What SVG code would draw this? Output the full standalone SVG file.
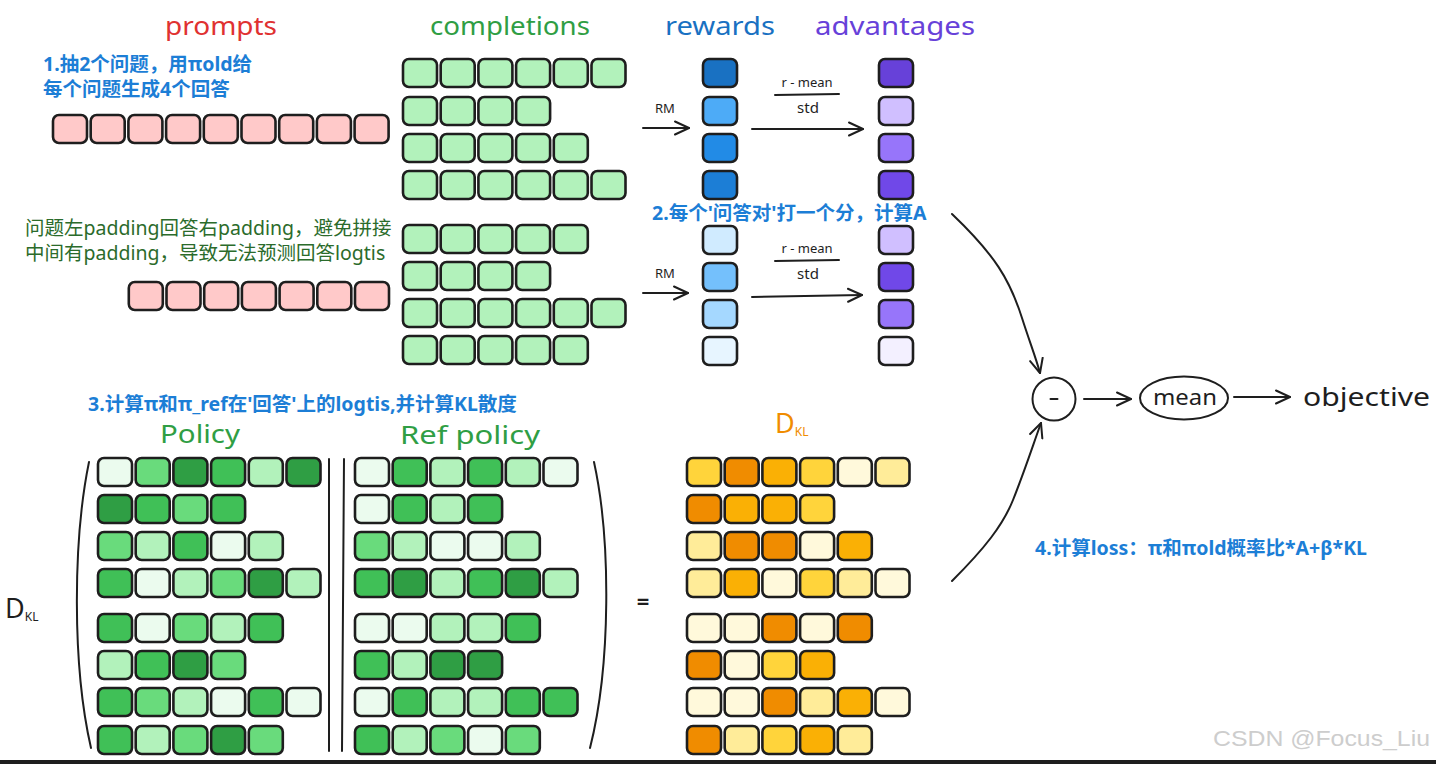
<svg xmlns="http://www.w3.org/2000/svg" width="1436" height="764" viewBox="0 0 1436 764">
<style>
.hand{font-family:"Noto Sans","DejaVu Sans",sans-serif}
.note{font-family:"Noto Sans","Noto Sans CJK SC",sans-serif;font-weight:bold;font-size:19.5px;fill:#1c7ed6}
.gnote{font-family:"Noto Sans","Noto Sans CJK SC",sans-serif;font-size:19.5px;fill:#2b6b2b}
.ink{stroke:#1e1e1e;fill:none;stroke-width:2;stroke-linecap:round}
.pk{fill:#ffc9c9}.cg{fill:#b2f2bb}
.L{fill:#ebfbee}.B{fill:#b2f2bb}.M{fill:#69db7c}.G{fill:#40c057}.D{fill:#2f9e44}
.Y{fill:#ffd43b}.O{fill:#f08c00}.A{fill:#fab005}.P{fill:#fff9db}.C{fill:#ffec99}
.b1{fill:#1971c2}.b2{fill:#4dabf7}.b3{fill:#228be6}.b4{fill:#1c7ed6}.b5{fill:#d0ebff}.b6{fill:#74c0fc}.b7{fill:#a5d8ff}.b8{fill:#e7f5ff}
.v1{fill:#6741d9}.v2{fill:#d0bfff}.v3{fill:#9775fa}.v4{fill:#7048e8}.v5{fill:#f3f0ff}
</style>
<defs>
<rect id="cell" width="34" height="28" rx="6" stroke="#1e1e1e" stroke-width="2.6"/>
<marker id="ah" viewBox="0 0 16 16" refX="15" refY="8" markerWidth="16" markerHeight="16" markerUnits="userSpaceOnUse" orient="auto">
<path d="M1,1.5 L15,8 L1,14.5" fill="none" stroke="#1e1e1e" stroke-width="2" stroke-linecap="round" stroke-linejoin="round"/>
</marker>
</defs>
<rect width="1436" height="764" fill="#ffffff"/>

<!-- titles -->
<g id="title-prompts"><text class="hand" x="165" y="35" font-size="25" fill="#e03131" textLength="112" lengthAdjust="spacingAndGlyphs">prompts</text></g>
<g id="title-completions"><text class="hand" x="430" y="35" font-size="25" fill="#2f9e44" textLength="160" lengthAdjust="spacingAndGlyphs">completions</text></g>
<g id="title-rewards"><text class="hand" x="665" y="35" font-size="25" fill="#1971c2" textLength="110" lengthAdjust="spacingAndGlyphs">rewards</text></g>
<g id="title-advantages"><text class="hand" x="815" y="35" font-size="25" fill="#6741d9" textLength="160" lengthAdjust="spacingAndGlyphs">advantages</text></g>

<!-- notes -->
<g id="note-1"><text class="note" x="43" y="70.5">1.抽2个问题，用πold给</text><text class="note" x="43" y="95.5">每个问题生成4个回答</text></g>
<g id="note-padding"><text class="gnote" x="25" y="235">问题左padding回答右padding，避免拼接</text><text class="gnote" x="25" y="260">中间有padding，导致无法预测回答logtis</text></g>
<g id="note-2"><text class="note" x="652" y="220">2.每个'问答对'打一个分，计算A</text></g>
<g id="note-3"><text class="note" x="88" y="411">3.计算π和π_ref在'回答'上的logtis,并计算KL散度</text></g>
<g id="note-4"><text class="note" x="1035" y="555">4.计算loss：π和πold概率比*A+β*KL</text></g>

<!-- prompts -->
<g id="prompts-1" transform="translate(53,115)" class="pk">
<use href="#cell" x="0"/><use href="#cell" x="37.7"/><use href="#cell" x="75.4"/><use href="#cell" x="113.1"/><use href="#cell" x="150.8"/><use href="#cell" x="188.5"/><use href="#cell" x="226.2"/><use href="#cell" x="263.9"/><use href="#cell" x="301.6"/>
</g>
<g id="prompts-2" transform="translate(128.8,282)" class="pk">
<use href="#cell" x="0"/><use href="#cell" x="37.7"/><use href="#cell" x="75.4"/><use href="#cell" x="113.1"/><use href="#cell" x="150.8"/><use href="#cell" x="188.5"/><use href="#cell" x="226.2"/>
</g>

<!-- completions -->
<g id="completions-1" transform="translate(403,59)" class="cg">
<use href="#cell" x="0" y="0"/><use href="#cell" x="37.7" y="0"/><use href="#cell" x="75.4" y="0"/><use href="#cell" x="113.1" y="0"/><use href="#cell" x="150.8" y="0"/><use href="#cell" x="188.5" y="0"/>
<use href="#cell" x="0" y="38"/><use href="#cell" x="37.7" y="38"/><use href="#cell" x="75.4" y="38"/><use href="#cell" x="113.1" y="38"/>
<use href="#cell" x="0" y="75"/><use href="#cell" x="37.7" y="75"/><use href="#cell" x="75.4" y="75"/><use href="#cell" x="113.1" y="75"/><use href="#cell" x="150.8" y="75"/>
<use href="#cell" x="0" y="112"/><use href="#cell" x="37.7" y="112"/><use href="#cell" x="75.4" y="112"/><use href="#cell" x="113.1" y="112"/><use href="#cell" x="150.8" y="112"/><use href="#cell" x="188.5" y="112"/>
</g>
<g id="completions-2" transform="translate(403,225)" class="cg">
<use href="#cell" x="0" y="0"/><use href="#cell" x="37.7" y="0"/><use href="#cell" x="75.4" y="0"/><use href="#cell" x="113.1" y="0"/><use href="#cell" x="150.8" y="0"/>
<use href="#cell" x="0" y="37"/><use href="#cell" x="37.7" y="37"/><use href="#cell" x="75.4" y="37"/><use href="#cell" x="113.1" y="37"/>
<use href="#cell" x="0" y="74"/><use href="#cell" x="37.7" y="74"/><use href="#cell" x="75.4" y="74"/><use href="#cell" x="113.1" y="74"/><use href="#cell" x="150.8" y="74"/><use href="#cell" x="188.5" y="74"/>
<use href="#cell" x="0" y="111"/><use href="#cell" x="37.7" y="111"/><use href="#cell" x="75.4" y="111"/><use href="#cell" x="113.1" y="111"/><use href="#cell" x="150.8" y="111"/>
</g>

<!-- rewards / advantages -->
<g id="rewards-1" transform="translate(703,59)">
<use href="#cell" y="0" class="b1"/><use href="#cell" y="38" class="b2"/><use href="#cell" y="75" class="b3"/><use href="#cell" y="112" class="b4"/>
</g>
<g id="advantages-1" transform="translate(879,59)">
<use href="#cell" y="0" class="v1"/><use href="#cell" y="38" class="v2"/><use href="#cell" y="75" class="v3"/><use href="#cell" y="112" class="v4"/>
</g>
<g id="rewards-2" transform="translate(703,226)">
<use href="#cell" y="0" class="b5"/><use href="#cell" y="37" class="b6"/><use href="#cell" y="74" class="b7"/><use href="#cell" y="111" class="b8"/>
</g>
<g id="advantages-2" transform="translate(879,226)">
<use href="#cell" y="0" class="v2"/><use href="#cell" y="37" class="v4"/><use href="#cell" y="74" class="v3"/><use href="#cell" y="111" class="v5"/>
</g>

<!-- labels on arrows -->
<g id="label-rm-1"><text class="hand" x="655" y="113" font-size="13" fill="#1e1e1e">RM</text></g>
<g id="label-norm-1">
<text class="hand" x="807" y="87" font-size="13" fill="#1e1e1e" text-anchor="middle">r - mean</text>
<line x1="775" y1="95" x2="839" y2="94" class="ink"/>
<text class="hand" x="808" y="113" font-size="15" fill="#1e1e1e" text-anchor="middle">std</text>
</g>
<g id="label-rm-2"><text class="hand" x="655" y="278" font-size="13" fill="#1e1e1e">RM</text></g>
<g id="label-norm-2">
<text class="hand" x="807" y="253" font-size="13" fill="#1e1e1e" text-anchor="middle">r - mean</text>
<line x1="775" y1="261" x2="839" y2="260" class="ink"/>
<text class="hand" x="808" y="279" font-size="15" fill="#1e1e1e" text-anchor="middle">std</text>
</g>

<!-- section titles bottom -->
<g id="title-policy"><text class="hand" x="160" y="443" font-size="25" fill="#2f9e44" textLength="80" lengthAdjust="spacingAndGlyphs">Policy</text></g>
<g id="title-ref-policy"><text class="hand" x="400" y="444" font-size="25" fill="#2f9e44" textLength="140" lengthAdjust="spacingAndGlyphs">Ref policy</text></g>
<g id="title-dkl"><text class="hand" x="775" y="433" font-size="27" fill="#f08c00">D<tspan font-size="12" dy="3">KL</tspan></text></g>
<g id="label-dkl-left"><text class="hand" x="5" y="618" font-size="27" fill="#1e1e1e">D<tspan font-size="12" dy="3">KL</tspan></text></g>

<!-- policy matrix -->
<g id="policy" transform="translate(98,458)">
<use href="#cell" x="0" y="0" class="L"/><use href="#cell" x="37.7" y="0" class="M"/><use href="#cell" x="75.4" y="0" class="D"/><use href="#cell" x="113.1" y="0" class="G"/><use href="#cell" x="150.8" y="0" class="B"/><use href="#cell" x="188.5" y="0" class="D"/>
<use href="#cell" x="0" y="37" class="D"/><use href="#cell" x="37.7" y="37" class="G"/><use href="#cell" x="75.4" y="37" class="M"/><use href="#cell" x="113.1" y="37" class="G"/>
<use href="#cell" x="0" y="74" class="M"/><use href="#cell" x="37.7" y="74" class="B"/><use href="#cell" x="75.4" y="74" class="G"/><use href="#cell" x="113.1" y="74" class="L"/><use href="#cell" x="150.8" y="74" class="B"/>
<use href="#cell" x="0" y="111" class="G"/><use href="#cell" x="37.7" y="111" class="L"/><use href="#cell" x="75.4" y="111" class="B"/><use href="#cell" x="113.1" y="111" class="M"/><use href="#cell" x="150.8" y="111" class="D"/><use href="#cell" x="188.5" y="111" class="B"/>
<use href="#cell" x="0" y="156" class="G"/><use href="#cell" x="37.7" y="156" class="L"/><use href="#cell" x="75.4" y="156" class="M"/><use href="#cell" x="113.1" y="156" class="B"/><use href="#cell" x="150.8" y="156" class="G"/>
<use href="#cell" x="0" y="193" class="B"/><use href="#cell" x="37.7" y="193" class="G"/><use href="#cell" x="75.4" y="193" class="D"/><use href="#cell" x="113.1" y="193" class="M"/>
<use href="#cell" x="0" y="230" class="G"/><use href="#cell" x="37.7" y="230" class="M"/><use href="#cell" x="75.4" y="230" class="B"/><use href="#cell" x="113.1" y="230" class="L"/><use href="#cell" x="150.8" y="230" class="G"/><use href="#cell" x="188.5" y="230" class="L"/>
<use href="#cell" x="0" y="268" class="G"/><use href="#cell" x="37.7" y="268" class="B"/><use href="#cell" x="75.4" y="268" class="M"/><use href="#cell" x="113.1" y="268" class="D"/><use href="#cell" x="150.8" y="268" class="M"/>
</g>

<!-- ref policy matrix -->
<g id="ref-policy" transform="translate(355,458)">
<use href="#cell" x="0" y="0" class="L"/><use href="#cell" x="37.7" y="0" class="G"/><use href="#cell" x="75.4" y="0" class="B"/><use href="#cell" x="113.1" y="0" class="G"/><use href="#cell" x="150.8" y="0" class="B"/><use href="#cell" x="188.5" y="0" class="L"/>
<use href="#cell" x="0" y="37" class="L"/><use href="#cell" x="37.7" y="37" class="G"/><use href="#cell" x="75.4" y="37" class="B"/><use href="#cell" x="113.1" y="37" class="G"/>
<use href="#cell" x="0" y="74" class="M"/><use href="#cell" x="37.7" y="74" class="B"/><use href="#cell" x="75.4" y="74" class="L"/><use href="#cell" x="113.1" y="74" class="L"/><use href="#cell" x="150.8" y="74" class="B"/>
<use href="#cell" x="0" y="111" class="G"/><use href="#cell" x="37.7" y="111" class="D"/><use href="#cell" x="75.4" y="111" class="B"/><use href="#cell" x="113.1" y="111" class="G"/><use href="#cell" x="150.8" y="111" class="D"/><use href="#cell" x="188.5" y="111" class="B"/>
<use href="#cell" x="0" y="156" class="L"/><use href="#cell" x="37.7" y="156" class="L"/><use href="#cell" x="75.4" y="156" class="B"/><use href="#cell" x="113.1" y="156" class="B"/><use href="#cell" x="150.8" y="156" class="G"/>
<use href="#cell" x="0" y="193" class="G"/><use href="#cell" x="37.7" y="193" class="B"/><use href="#cell" x="75.4" y="193" class="D"/><use href="#cell" x="113.1" y="193" class="D"/>
<use href="#cell" x="0" y="230" class="L"/><use href="#cell" x="37.7" y="230" class="G"/><use href="#cell" x="75.4" y="230" class="B"/><use href="#cell" x="113.1" y="230" class="B"/><use href="#cell" x="150.8" y="230" class="G"/><use href="#cell" x="188.5" y="230" class="G"/>
<use href="#cell" x="0" y="268" class="G"/><use href="#cell" x="37.7" y="268" class="B"/><use href="#cell" x="75.4" y="268" class="M"/><use href="#cell" x="113.1" y="268" class="L"/><use href="#cell" x="150.8" y="268" class="M"/>
</g>

<!-- KL matrix -->
<g id="kl-matrix" transform="translate(687,458)">
<use href="#cell" x="0" y="0" class="Y"/><use href="#cell" x="37.7" y="0" class="O"/><use href="#cell" x="75.4" y="0" class="A"/><use href="#cell" x="113.1" y="0" class="Y"/><use href="#cell" x="150.8" y="0" class="P"/><use href="#cell" x="188.5" y="0" class="C"/>
<use href="#cell" x="0" y="37" class="O"/><use href="#cell" x="37.7" y="37" class="A"/><use href="#cell" x="75.4" y="37" class="A"/><use href="#cell" x="113.1" y="37" class="Y"/>
<use href="#cell" x="0" y="74" class="C"/><use href="#cell" x="37.7" y="74" class="O"/><use href="#cell" x="75.4" y="74" class="O"/><use href="#cell" x="113.1" y="74" class="P"/><use href="#cell" x="150.8" y="74" class="A"/>
<use href="#cell" x="0" y="111" class="C"/><use href="#cell" x="37.7" y="111" class="A"/><use href="#cell" x="75.4" y="111" class="P"/><use href="#cell" x="113.1" y="111" class="Y"/><use href="#cell" x="150.8" y="111" class="C"/><use href="#cell" x="188.5" y="111" class="P"/>
<use href="#cell" x="0" y="156" class="P"/><use href="#cell" x="37.7" y="156" class="P"/><use href="#cell" x="75.4" y="156" class="O"/><use href="#cell" x="113.1" y="156" class="P"/><use href="#cell" x="150.8" y="156" class="O"/>
<use href="#cell" x="0" y="193" class="O"/><use href="#cell" x="37.7" y="193" class="P"/><use href="#cell" x="75.4" y="193" class="Y"/><use href="#cell" x="113.1" y="193" class="A"/>
<use href="#cell" x="0" y="230" class="P"/><use href="#cell" x="37.7" y="230" class="P"/><use href="#cell" x="75.4" y="230" class="O"/><use href="#cell" x="113.1" y="230" class="C"/><use href="#cell" x="150.8" y="230" class="A"/><use href="#cell" x="188.5" y="230" class="P"/>
<use href="#cell" x="0" y="268" class="O"/><use href="#cell" x="37.7" y="268" class="C"/><use href="#cell" x="75.4" y="268" class="Y"/><use href="#cell" x="113.1" y="268" class="A"/><use href="#cell" x="150.8" y="268" class="C"/>
</g>

<!-- brackets and equals -->
<g id="kl-brackets">
<path d="M89,462 C73,540 72,665 91,748" class="ink"/>
<line x1="329" y1="459" x2="329" y2="751" class="ink"/>
<line x1="344" y1="459" x2="342" y2="751" class="ink"/>
<path d="M594,462 C611,540 611,665 590,748" class="ink"/>
<text class="hand" x="643" y="609" font-size="22" fill="#1e1e1e" text-anchor="middle" font-weight="bold">=</text>
</g>

<!-- right side nodes -->
<g id="minus-node">
<circle cx="1054" cy="399" r="21.5" class="ink"/>
<line x1="1050.5" y1="399" x2="1057.5" y2="399" class="ink" stroke-width="2.5"/>
</g>
<g id="mean-node">
<ellipse cx="1184" cy="398" rx="44" ry="21.5" class="ink"/>
<text class="hand" x="1153" y="405" font-size="22" fill="#1e1e1e" textLength="64" lengthAdjust="spacingAndGlyphs">mean</text>
</g>
<g id="objective-node">
<text class="hand" x="1303" y="406" font-size="25" fill="#1e1e1e" textLength="127" lengthAdjust="spacingAndGlyphs">objective</text>
</g>

<!-- connectors -->
<g id="connectors" class="ink" marker-end="url(#ah)">
<line x1="643" y1="128" x2="689" y2="128"/>
<line x1="752" y1="129" x2="863" y2="129"/>
<line x1="643" y1="293" x2="688" y2="293"/>
<line x1="752" y1="297" x2="862" y2="295"/>
<path d="M952,214 C995,255 1010,280 1022,318 C1030,343 1036,358 1040,373"/>
<path d="M952,581 C985,548 1003,525 1013,500 C1025,470 1033,445 1041,423"/>
<line x1="1084" y1="399" x2="1131" y2="399"/>
<line x1="1234" y1="397" x2="1290" y2="397"/>
</g>

<!-- watermark and bottom border -->
<g id="watermark"><text x="1213" y="746" font-family="Liberation Sans, sans-serif" font-size="22" fill="#cdcdcd" textLength="217" lengthAdjust="spacingAndGlyphs">CSDN @Focus_Liu</text></g>
<rect x="0" y="760" width="1436" height="4" fill="#1e1e1e"/>
</svg>
